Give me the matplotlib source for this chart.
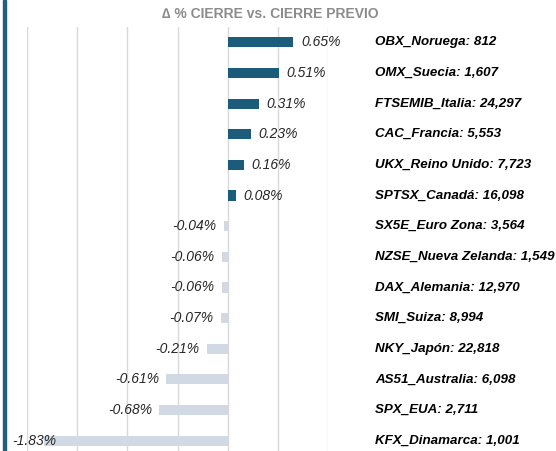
import numpy as np
import matplotlib.pyplot as plt
from matplotlib.transforms import blended_transform_factory
from matplotlib.patches import Rectangle

plt.rcParams['font.family'] = ['Liberation Sans', 'DejaVu Sans']

# Data
names = ['OBX_Noruega: 812', 'OMX_Suecia: 1,607', 'FTSEMIB_Italia: 24,297',
         'CAC_Francia: 5,553', 'UKX_Reino Unido: 7,723', 'SPTSX_Canadá: 16,098',
         'SX5E_Euro Zona: 3,564', 'NZSE_Nueva Zelanda: 1,549', 'DAX_Alemania: 12,970',
         'SMI_Suiza: 8,994', 'NKY_Japón: 22,818', 'AS51_Australia: 6,098',
         'SPX_EUA: 2,711', 'KFX_Dinamarca: 1,001']
changes = [0.65, 0.51, 0.31, 0.23, 0.16, 0.08, -0.04, -0.06, -0.06, -0.07,
           -0.21, -0.61, -0.68, -1.83]
title = '\u2206 % CIERRE vs. CIERRE PREVIO'

posColor = '#1B5C7B'
negColor = '#D0D9E4'

W, H = 556, 451
fig = plt.figure(figsize=(W/100, H/100), dpi=100)
ax = fig.add_axes([27/W, 1 - 456/H, 301/W, 429/H])

y = np.arange(len(changes))
colors = [posColor if v >= 0 else negColor for v in changes]
ax.barh(y, changes, height=0.33, color=colors, zorder=2)

ax.set_xlim(-2.0, 1.0)
ax.set_ylim(len(changes) - 0.5, -0.5)
ax.set_xticks(np.arange(-2.0, 1.01, 0.5))
ax.grid(axis='x', color='#D9D9D9', linewidth=1, zorder=0)
ax.tick_params(length=0, labelbottom=False, labelleft=False)
for s in ax.spines.values():
    s.set_visible(False)

# Value labels
for yi, v in zip(y, changes):
    if v >= 0:
        ax.text(v + 0.08, yi, f'{v:.2f}%', ha='left', va='center',
                style='italic', fontsize=10, color='#262626')
    else:
        xl = max(v, -1.64) - 0.07
        ax.text(xl, yi, f'{v:.2f}%', ha='right', va='center',
                style='italic', fontsize=10, color='#262626', zorder=3)

# Index names on the right
tr = blended_transform_factory(fig.transFigure, ax.transData)
for yi, n in zip(y, names):
    ax.text(375/W, yi, n, transform=tr, ha='left', va='center',
            style='italic', fontweight='bold', fontsize=9.6, color='black')

fig.text(270/W, 1 - 14/H, title, ha='center', va='center',
         fontsize=10, fontweight='bold', color='#8C8C8C')

# Left border
fig.patches.append(Rectangle((3/W, 0), 3/W, 1, transform=fig.transFigure,
                             color='#1F5F7F'))

fig.savefig('out.png', dpi=100)
